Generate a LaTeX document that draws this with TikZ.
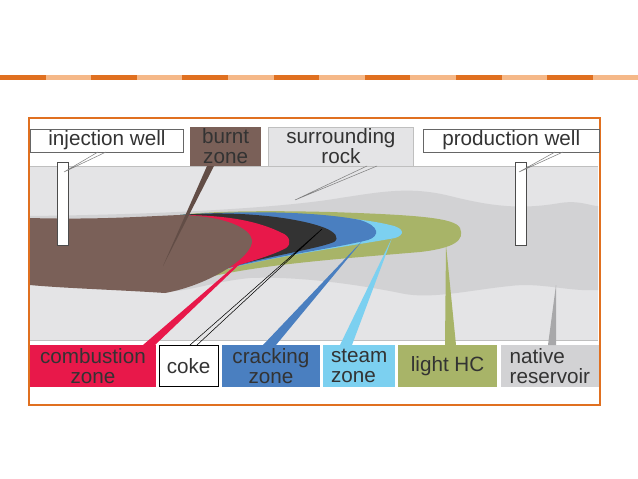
\documentclass[tikz,border=0pt]{standalone}
\usepackage{fontspec}
\setmainfont{Liberation Sans}
\begin{document}
\begin{tikzpicture}[x=0.75pt,y=-0.75pt,
  box/.style={anchor=north west, inner sep=1pt, align=center, font=\fontsize{15.5}{15}\selectfont, text=black!80}]
\definecolor{dk}{HTML}{E07020}\definecolor{lt}{HTML}{F5B888}
\definecolor{rock}{HTML}{E4E4E6}\definecolor{res}{HTML}{D2D2D4}
\definecolor{brn}{HTML}{7A6058}\definecolor{rd}{HTML}{E8184A}
\definecolor{blk}{HTML}{333333}\definecolor{blu}{HTML}{4A7FC0}
\definecolor{lblu}{HTML}{7CD0F0}\definecolor{olv}{HTML}{A8B468}
\useasboundingbox (0,0) rectangle (638,478);
% dashed rule
\foreach \i in {0,...,13}{
  \pgfmathsetmacro\xa{\i*45.6}
  \ifodd\i \fill[lt] (\xa,75) rectangle ++(45.6,5); \else \fill[dk] (\xa,75) rectangle ++(45.6,5); \fi}
% frame
\draw[dk, line width=1pt] (29,118) rectangle (600,405);
% rock band
\fill[rock] (30,166) rectangle (598,340);
\draw[gray!50] (30,166) -- (598,166) (30,340)--(598,340);
% reservoir
\fill[res] (30,216) .. controls (200,214) and (300,205) .. (340,198)
  .. controls (380,192) and (410,186) .. (450,196)
  .. controls (490,206) and (520,210) .. (560,203) .. controls (580,200) and (590,206) .. (598,206)
  -- (598,290) .. controls (570,292) and (540,282) .. (510,286)
  .. controls (470,290) and (430,300) .. (400,293)
  .. controls (360,285) and (300,276) .. (250,278)
  .. controls (210,282) and (190,292) .. (160,292) -- (30,285) -- cycle;
% zones
\fill[olv] (160,292) .. controls (220,268) and (300,262) .. (420,252)
  .. controls (455,248) and (465,240) .. (460,228) .. controls (455,218) and (420,215) .. (330,212)
  .. controls (250,210) and (200,212) .. (180,215) -- cycle;
\fill[lblu] (160,292) .. controls (220,262) and (330,250) .. (395,238)
  .. controls (405,235) and (405,228) .. (390,225) .. controls (350,215) and (250,210) .. (180,215) -- cycle;
\fill[blu] (160,292) .. controls (220,262) and (320,252) .. (368,240)
  .. controls (380,236) and (380,226) .. (360,220) .. controls (320,212) and (250,210) .. (180,215) -- cycle;
\fill[blk] (160,292) .. controls (220,262) and (310,252) .. (334,242)
  .. controls (340,238) and (335,232) .. (325,228) .. controls (300,218) and (240,210) .. (180,215) -- cycle;
\fill[rd] (160,292) .. controls (210,270) and (260,262) .. (286,248)
  .. controls (292,244) and (290,236) .. (282,233) .. controls (260,222) and (230,215) .. (180,215) -- cycle;
\fill[brn] (30,218) .. controls (100,220) and (150,216) .. (180,215)
  .. controls (225,216) and (250,228) .. (252,240)
  .. controls (254,256) and (210,285) .. (165,293)
  .. controls (120,290) and (60,288) .. (30,285) -- cycle;
% wells
\node[draw=black!70, fill=white, inner sep=0, minimum width=8.25pt, minimum height=62pt] (iw) at (62.5,203.5) {};
\node[draw=black!70, fill=white, inner sep=0, minimum width=8.25pt, minimum height=62pt] (pw) at (521,203.5) {};
% labels
\node[box, draw=black!60, fill=white, minimum width=115pt, minimum height=17pt] (il) at (30,129) {injection well};
\node[box, fill=brn, minimum width=53pt, minimum height=29pt] (bz) at (190,127) {burnt\\zone};
\node[box, draw=black!25, fill=rock, minimum width=109pt, minimum height=29pt] (sr) at (268,127) {surrounding\\rock};
\node[box, draw=black!60, fill=white, minimum width=132pt, minimum height=17pt] (pl) at (423,129) {production well};
\node[box, fill=rd, minimum width=94pt, minimum height=31pt] (cz) at (30,345) {combustion\\zone};
\node[box, draw=black, fill=white, minimum width=44pt, minimum height=31pt] (ck) at (159,345) {coke};
\node[box, fill=blu, minimum width=73pt, minimum height=31pt] (kz) at (222,345) {cracking\\zone};
\node[box, fill=lblu, minimum width=54pt, minimum height=31pt, align=left] (sz) at (323,345) {steam\\zone};
\node[box, fill=olv, minimum width=74pt, minimum height=31pt] (lh) at (398,345) {light HC};
\node[box, fill=res, minimum width=73pt, minimum height=31pt, align=left] (nr) at (501,345) {native\\reservoir};
% callouts
\coordinate (pi) at (64,172); \coordinate (pp) at (519,172);
\draw[gray] (98,152) -- (pi) (106,152) -- (pi);
\draw[gray] (555,152) -- (pp) (563,152) -- (pp);
\fill[brn!80!black] (207,166) -- (214,166) -- (163,266) -- cycle;
\draw[gray] (367,166) -- (295,200) (377,166) -- (295,200);
\fill[rd] (143,345) -- (155,345) -- (266,239) -- cycle;
\draw[black] (190,345) -- (322,229) (197,345) -- (322,229);
\fill[blu] (263,345) -- (276,345) -- (363,240) -- cycle;
\fill[lblu] (340,345) -- (352,345) -- (392,238) -- cycle;
\fill[olv] (445,345) -- (456,345) -- (446,245) -- cycle;
\fill[res!80!black] (548,345) -- (556,345) -- (556,285) -- cycle;
\end{tikzpicture}
\end{document}
